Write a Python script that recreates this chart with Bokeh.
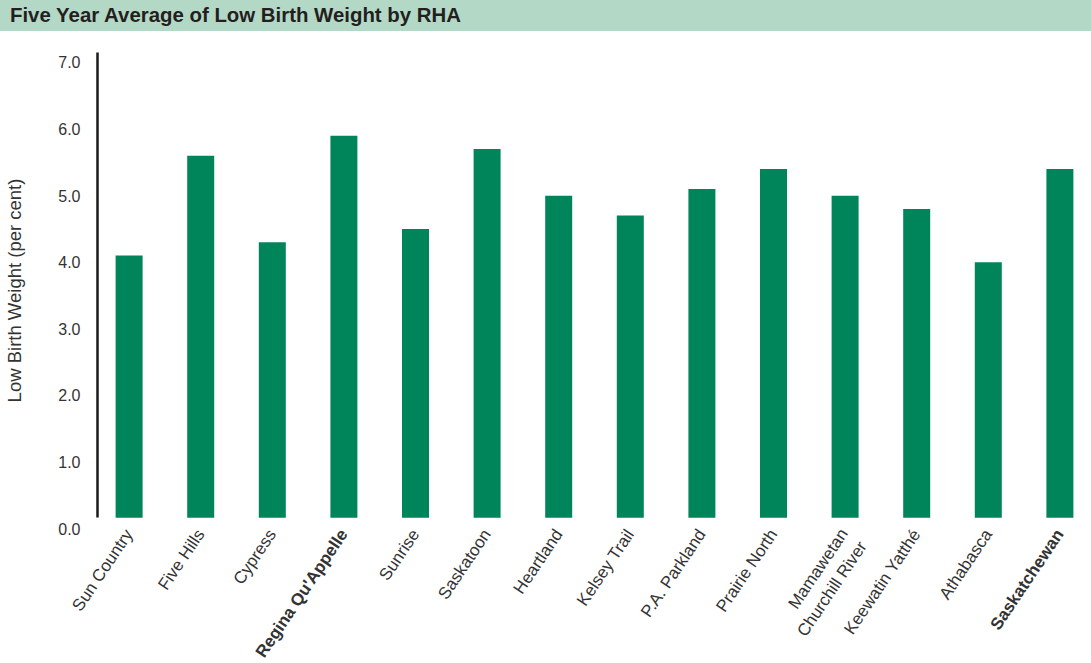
import math
from bokeh.plotting import figure
from bokeh.models import (ColumnDataSource, Range1d, FactorRange, FixedTicker,
                          PrintfTickFormatter, Div)
from bokeh.layouts import column
from bokeh.core.properties import value, field
from bokeh.embed import file_html
from bokeh.resources import INLINE

# Five-year average low birth weight (per cent) by Regional Health Authority
regions = ["Sun Country", "Five Hills", "Cypress", "Regina Qu'Appelle", "Sunrise",
           "Saskatoon", "Heartland", "Kelsey Trail", "P.A. Parkland", "Prairie North",
           "Mamawetan\nChurchill River", "Keewatin Yatthé", "Athabasca", "Saskatchewan"]
low_birth_weight = [4.1, 5.6, 4.3, 5.9, 4.5, 5.7, 5.0, 4.7, 5.1, 5.4, 5.0, 4.8, 4.0, 5.4]
highlighted = ["Regina Qu'Appelle", "Saskatchewan"]
y_ticks = [0, 1, 2, 3, 4, 5, 6, 7]

TITLE = "Five Year Average of Low Birth Weight by RHA"
Y_LABEL = "Low Birth Weight (per cent)"

BAR_COLOR = "#00845a"
BAND_COLOR = "#b3d8c5"
TEXT_COLOR = "#333333"
FONT = "Liberation Sans"
AXIS_FLOOR = 0.16
Y_TOP = 7.15

WIDTH = 1091
HEIGHT = 663
HEADER_H = 31
CHART_H = 497             # header bottom to the value-0 line
LEFT = 97                 # frame starts at the vertical axis rule
X_PAD = -0.0586           # trims the outer half-cells a little
OVERLAP = 12              # room under the frame for the "0.0" tick label
LIFT = 25                 # how far the label row is pulled up over the chart
LABEL_SIZE = 17
LABEL_ANGLE = math.radians(56)

n = len(regions)
source = ColumnDataSource(dict(
    region=regions,
    value=low_birth_weight,
    style=["bold" if r in highlighted else "normal" for r in regions],
))

header = Div(
    text=TITLE, width=WIDTH, height=HEADER_H, margin=0,
    styles={
        "background-color": BAND_COLOR,
        "box-sizing": "border-box",
        "padding-left": "10px",
        "font-family": FONT,
        "font-weight": "bold",
        "font-size": "20.4px",
        "line-height": f"{HEADER_H}px",
        "color": "#231f20",
        "white-space": "nowrap",
        "overflow": "hidden",
    },
)

x_range = FactorRange(*regions, range_padding=X_PAD, range_padding_units="absolute")

p = figure(
    x_range=x_range, y_range=Range1d(0, Y_TOP),
    width=WIDTH, height=CHART_H + OVERLAP,
    min_border_left=LEFT, min_border_right=0, min_border_top=21, min_border_bottom=OVERLAP,
    x_axis_location=None, frame_align=False, margin=0,
    output_backend="svg", toolbar_location=None,
)
p.outline_line_color = None
p.grid.grid_line_color = None

p.vbar(x="region", top="value", bottom=AXIS_FLOOR, width=0.377, source=source,
       fill_color=BAR_COLOR, line_color=None)

# y axis: plain vertical rule, tick labels without tick marks
yax = p.yaxis[0]
yax.ticker = FixedTicker(ticks=y_ticks)
yax.formatter = PrintfTickFormatter(format="%.1f")
yax.bounds = (AXIS_FLOOR, Y_TOP)
yax.axis_line_color = "#1a1a1a"
yax.axis_line_width = 2.5
yax.major_tick_line_color = None
yax.minor_tick_line_color = None
yax.major_tick_out = 0
yax.major_tick_in = 0
yax.major_label_standoff = 17
yax.major_label_text_font = FONT
yax.major_label_text_font_size = "16px"
yax.major_label_text_color = TEXT_COLOR
yax.axis_label = Y_LABEL
yax.axis_label_text_font = FONT
yax.axis_label_text_font_size = "18.5px"
yax.axis_label_text_font_style = "normal"
yax.axis_label_text_color = TEXT_COLOR
yax.axis_label_standoff = 30

# Row of rotated category names under the bars (some set in bold).  It uses a
# numeric x scale laid over the same cells as the category range above, but
# spanning the full width so long names are not cut at the axis.  The row is
# transparent and slightly overlaps the chart above it.
x0 = -X_PAD
cell = (WIDTH - LEFT) / (n + 2 * X_PAD)
label_range = Range1d(x0 - LEFT / cell, n + X_PAD)

row_h = HEIGHT - (HEADER_H + CHART_H + OVERLAP - LIFT)
zero_line = -(LIFT - OVERLAP)            # value-0 line in the row's pixel scale

line_h = 1.2 * LABEL_SIZE
label_x, label_y = [], []
for i, name in enumerate(regions):
    shift = (name.count("\n")) * line_h / 2   # keep the first line at the anchor
    label_x.append(i + 0.5 + shift * math.sin(LABEL_ANGLE) / cell)
    label_y.append(zero_line - 2.5 - shift * math.cos(LABEL_ANGLE))
source.data["label_x"] = label_x
source.data["label_y"] = label_y

q = figure(
    x_range=label_range, y_range=Range1d(-row_h, 0),
    width=WIDTH, height=row_h,
    min_border_left=0, min_border_right=0, min_border_top=0, min_border_bottom=0,
    x_axis_location=None, y_axis_location=None, frame_align=False,
    margin=(-LIFT, 0, 0, 0),
    output_backend="svg", toolbar_location=None,
)
q.outline_line_color = None
q.grid.grid_line_color = None
q.background_fill_color = None
q.border_fill_color = None
q.text(x="label_x", y="label_y", text="region", source=source,
       angle=LABEL_ANGLE, text_align="right", text_baseline="middle",
       text_font=value(FONT), text_font_size=f"{LABEL_SIZE}px",
       text_font_style=field("style"), text_color=TEXT_COLOR)

layout = column(header, p, q, spacing=0)

open("out.html", "w").write(file_html(layout, INLINE))
